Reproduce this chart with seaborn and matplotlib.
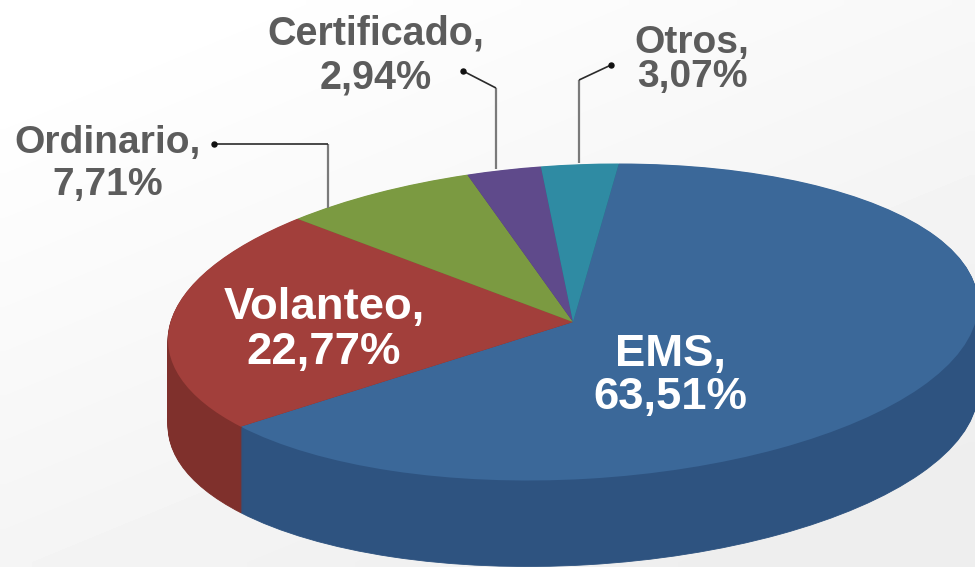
import numpy as np
import matplotlib
matplotlib.use("Agg")
import matplotlib.pyplot as plt
from matplotlib.transforms import Affine2D
import seaborn as sns

categories = ["EMS", "Volanteo", "Ordinario", "Certificado", "Otros"]
shares = [63.51, 22.77, 7.71, 2.94, 3.07]
share_labels = ["63,51%", "22,77%", "7,71%", "2,94%", "3,07%"]

top_colors = sns.color_palette(["#3b6899", "#a23f3b", "#7b9a41", "#5f4a8b", "#2f8ba3"])
side_colors = sns.color_palette(["#2e5380", "#7f302c", "#5f7832", "#493870", "#246f82"])

sns.set_theme(style="white")
plt.rcParams["font.family"] = ["Liberation Sans", "DejaVu Sans"]

W, H = 975, 567
fig = plt.figure(figsize=(W / 100, H / 100), dpi=100)

# soft background gradient
bg = fig.add_axes([0, 0, 1, 1], zorder=0)
yy, xx = np.mgrid[0:1:60j, 0:1:100j]
shade = 1.0 - 0.07 * np.clip(0.5 * xx + 0.7 * yy - 0.1, 0, 1)
bg.imshow(shade, cmap="gray", vmin=0, vmax=1, aspect="auto", interpolation="bilinear",
          extent=(0, 1, 0, 1), origin="upper")
bg.axis("off")

# pie drawn in unit-circle coordinates, squashed by the axes limits and slightly sheared
CX, CY, RX, RY, DEPTH = 573.0, 322.0, 405.0, 157.5, 86
SHEAR = 0.044
START = 83.5
ax = fig.add_axes([0, 0, 1, 1], zorder=1)
ax.patch.set_alpha(0)
shear = Affine2D.from_values(1, SHEAR * RX / RY, 0, 1, 0, 0)
for d in range(DEPTH, 0, -1):
    wedges, _ = ax.pie(shares, colors=side_colors, startangle=START, counterclock=False,
                       center=(0, -d / RY), radius=1.0, normalize=True)
    for w in wedges:
        w.set_edgecolor(w.get_facecolor())
        w.set_linewidth(0.6)
        w.set_transform(shear + ax.transData)
wedges, _ = ax.pie(shares, colors=top_colors, startangle=START, counterclock=False,
                   center=(0, 0), radius=1.0, normalize=True,
                   wedgeprops=dict(linewidth=0))
for w in wedges:
    w.set_transform(shear + ax.transData)
ax.set_aspect("auto")
ax.set_xlim((0 - CX) / RX, (W - CX) / RX)
ax.set_ylim((CY - H) / RY, (CY - 0) / RY)

# overlay in pixel coordinates for labels and leader lines
ov = fig.add_axes([0, 0, 1, 1], zorder=2)
ov.set_xlim(0, W)
ov.set_ylim(H, 0)
ov.axis("off")

grey = "#5c5c5c"
label_pos = {
    "EMS": (670, 376, "white", 45.5, 1.05),
    "Volanteo": (324, 330, "white", 45.5, 1.13),
    "Ordinario": (108, 164, grey, 39, 1.18),
    "Certificado": (376, 55.5, grey, 39.5, 1.22),
    "Otros": (692, 60, grey, 39, 0.9),
}
for name, val in zip(categories, share_labels):
    x, y, c, px, ls = label_pos[name]
    ov.text(x, y, f"{name},\n{val}", ha="center", va="center", color=c,
            fontsize=px * 0.72, fontweight="bold", linespacing=ls)

leaders = [
    ((214, 328, 328), (144, 144, 208)),
    ((463, 496, 496), (71, 88, 169)),
    ((611, 579, 579), (65, 80, 163)),
]
for xs, ys in leaders:
    ov.plot(xs[1:], ys[1:], color="#7a7a7a", lw=1.6, solid_capstyle="butt")
    ov.plot(xs[:2], ys[:2], color="#2a2a2a", lw=1.2, solid_capstyle="butt")
    ov.plot(xs[0], ys[0], "o", color="#111111", ms=3.6)

fig.savefig("out.png", dpi=100)
